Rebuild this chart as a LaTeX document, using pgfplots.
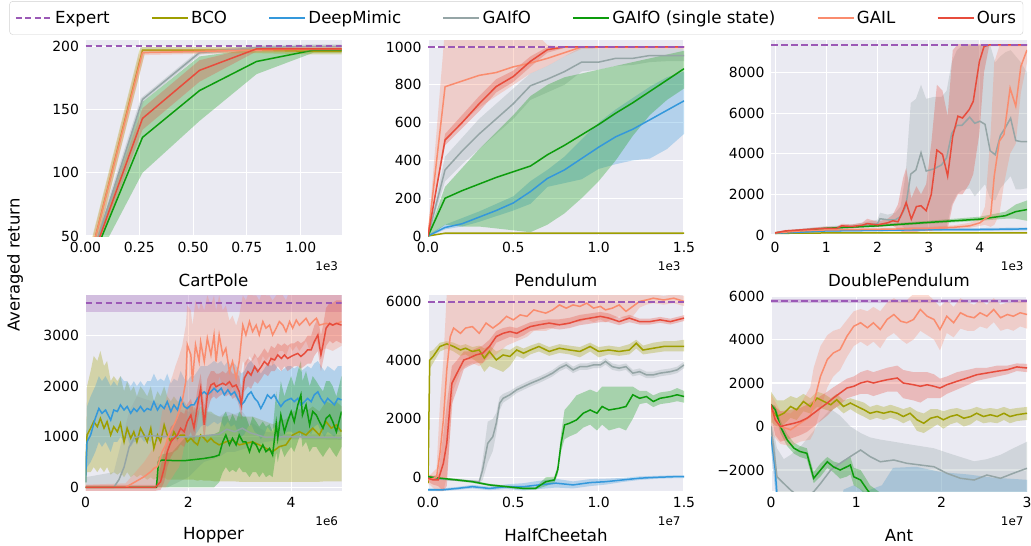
\documentclass[border=0pt]{standalone}
\usepackage{fontspec}
\setmainfont{DejaVu Sans}
\usepackage{pgfplots}
\pgfplotsset{compat=1.18}
\usepackage{pgfplotstable}
\usepgfplotslibrary{fillbetween}

\definecolor{bgc}{HTML}{EAEAF2}
\definecolor{cExp}{HTML}{9B59B6}
\definecolor{cBCO}{HTML}{9E9E00}
\definecolor{cDM}{HTML}{3498DB}
\definecolor{cGO}{HTML}{95A5A6}
\definecolor{cGS}{HTML}{0C9C0C}
\definecolor{cGAIL}{HTML}{FA8C6E}
\definecolor{cOurs}{HTML}{E74C3C}

% ---------- CartPole (x in 1e3) ----------
\pgfplotstableread{
x m
0 18
0.265 197
0.53 197
0.795 197
1.06 196
1.19 196
}\cpBCO
\pgfplotstableread{
x m
0 18
0.265 195
0.53 196
0.795 197
1.06 198
1.19 198
}\cpGAIL
\pgfplotstableread{
x m
0 18
0.265 158
0.53 195
0.795 199
1.06 200
1.19 200
}\cpGO
\pgfplotstableread{
x m lo hi
0 18 15 21
0.265 143 134 151
0.53 181 172 189
0.795 198 196 200
1.06 198 197 199
1.19 198 197 199
}\cpOurs
\pgfplotstableread{
x m lo hi
0 18 14 22
0.265 128 100 156
0.53 165 141 192
0.795 188 178 198
1.06 197 195 199
1.19 197 195 199
}\cpGS

% ---------- Pendulum (x in 1e3) ----------
\pgfplotstableread{
x m
0 0
0.1 15
1.5 15
}\peBCO
\pgfplotstableread{
x m lo hi
0 0 -5 5
0.1 45 35 60
0.2 65 50 95
0.3 100 75 130
0.4 135 105 170
0.5 175 135 210
0.6 235 170 290
0.7 305 260 350
0.8 350 280 420
0.9 410 300 510
1.0 470 355 600
1.1 525 380 670
1.2 565 400 730
1.3 615 410 790
1.4 665 460 840
1.5 715 540 870
}\peDM
\pgfplotstableread{
x m lo hi
0 0 -5 5
0.1 350 290 420
0.2 450 380 520
0.3 540 460 620
0.4 620 540 700
0.5 700 620 780
0.6 795 720 860
0.7 830 760 900
0.8 870 800 950
0.9 920 870 1000
1.0 920 880 990
1.1 940 900 990
1.2 940 905 990
1.3 955 920 990
1.4 955 925 990
1.5 955 925 990
}\peGO
\pgfplotstableread{
x m lo hi
0 0 -5 5
0.1 200 60 260
0.2 240 50 360
0.3 275 50 460
0.4 310 40 550
0.5 340 30 640
0.6 370 20 740
0.7 430 60 800
0.8 480 120 840
0.9 535 200 860
1.0 590 290 880
1.1 650 400 900
1.2 705 530 920
1.3 765 640 940
1.4 825 720 960
1.5 885 780 980
}\peGS
\pgfplotstableread{
x m lo hi
0 0 -5 5
0.1 790 500 1100
0.2 820 600 1100
0.3 850 680 1100
0.4 865 740 1100
0.5 895 800 1100
0.6 915 860 1100
0.7 940 900 1010
0.8 970 950 1000
0.9 1000 990 1005
1.5 1000 990 1005
}\peGAIL
\pgfplotstableread{
x m lo hi
0 0 -5 5
0.1 508 480 540
0.2 600 570 640
0.3 700 660 740
0.4 791 760 830
0.5 844 815 875
0.6 924 895 950
0.7 986 970 1000
0.8 1000 995 1003
1.5 1000 995 1003
}\peOurs

% ---------- DoublePendulum (x in 1e3) ----------
\pgfplotstableread{
x m lo hi
0 80 60 100
1 100 80 120
4.92 100 80 120
}\dpBCO
\pgfplotstableread{
x m lo hi
0 80 50 110
1 200 150 250
2 230 180 280
3 260 200 320
4 270 200 340
4.92 300 230 370
}\dpDM
\pgfplotstableread{
x m lo hi
0 100 50 150
0.5 250 200 300
1.0 330 250 420
1.5 420 330 520
1.8 500 380 650
2.0 550 400 750
2.05 800 500 1100
2.2 750 500 1000
2.35 750 450 1100
2.45 900 500 1400
2.55 1400 300 3000
2.65 3000 200 6500
2.75 3200 250 6700
2.85 4050 300 7400
2.95 3150 200 6700
3.1 3250 200 6800
3.25 3450 200 6800
3.35 3800 400 7100
3.45 5000 1500 8500
3.55 5400 2000 9100
3.65 5400 2200 9300
3.8 5800 2300 9350
3.9 5500 1900 9350
4.0 5600 2200 9350
4.1 5450 2500 9350
4.2 4150 1800 9350
4.3 3950 1700 8500
4.4 4900 2300 8800
4.5 5300 2600 9000
4.6 5750 2900 9100
4.7 4650 2250 8800
4.8 4600 2250 8500
4.92 4600 2300 8000
}\dpGO
\pgfplotstableread{
x m lo hi
0 100 50 150
1 330 280 380
2 450 400 520
3 620 550 700
4 780 700 900
4.5 950 800 1150
4.7 1150 800 1500
4.92 1250 700 1700
}\dpGS
\pgfplotstableread{
x m lo hi
0 100 50 150
0.5 200 150 250
1.0 250 200 300
2.0 280 220 350
3.0 320 250 400
3.5 380 300 480
3.8 450 350 600
4.0 600 450 800
4.1 800 500 1400
4.21 950 400 5000
4.28 2900 500 8500
4.38 4620 1000 9300
4.47 4950 2500 9300
4.59 7230 4000 9350
4.70 6340 4500 9350
4.80 8300 7000 9350
4.92 9110 8500 9350
}\dpGAIL
\pgfplotstableread{
x m lo hi
0 100 50 150
0.2 200 150 250
0.5 250 200 300
0.8 300 220 380
1.0 330 250 420
1.2 320 240 400
1.3 450 350 550
1.5 420 320 520
1.7 480 380 600
1.8 560 400 800
2.0 500 380 650
2.2 600 450 800
2.3 700 450 1000
2.4 650 300 1500
2.5 1200 100 2800
2.56 1600 100 3300
2.66 780 100 1800
2.76 1400 150 2400
2.85 1440 200 2000
2.95 1190 200 2500
3.05 2000 200 4500
3.16 4180 300 7400
3.27 3970 300 7100
3.37 2900 300 5850
3.47 4870 1500 9100
3.57 5850 2000 9400
3.66 5760 2000 9400
3.79 6170 2500 9400
3.87 6580 3000 9400
3.99 8540 5000 9400
4.08 9275 8000 9400
4.18 9357 9300 9400
4.92 9357 9300 9400
}\dpOurs

% ---------- Hopper (x in 1e6) ----------
\pgfplotstableread{
x m lo hi
0 3650 3470 3830
5 3650 3470 3830
}\hoExp
\pgfplotstableread{
x m lo hi
0 100 0 300
0.03 1035 300 2000
0.1 1170 300 2300
0.16 1300 400 2600
0.23 1200 300 2500
0.29 1365 400 2700
0.36 1170 300 2400
0.42 1300 400 2500
0.49 1035 250 2100
0.55 1200 300 2200
0.62 1100 250 2100
0.68 1265 300 2200
0.75 900 200 1900
0.81 1170 300 2100
0.88 970 200 1900
0.94 1100 250 2000
1.0 900 200 1800
1.07 1170 250 2000
1.14 1035 200 1900
1.2 900 150 1800
1.27 1170 200 2000
1.33 770 150 1700
1.4 1035 200 1900
1.46 900 150 1800
1.53 1235 200 2000
1.59 1035 150 1800
1.66 900 150 1700
1.72 1100 150 1800
1.79 970 150 1700
1.85 1035 150 1700
1.92 1035 150 1700
1.98 900 150 1600
2.05 970 150 1600
2.11 900 150 1600
2.18 840 130 1500
2.24 1035 150 1600
2.31 970 130 1550
2.37 900 130 1500
2.44 970 130 1500
2.5 900 120 1450
2.6 840 120 1400
2.73 900 120 1400
2.86 935 120 1450
2.99 840 110 1400
3.12 870 110 1400
3.25 900 110 1400
3.38 840 110 1350
3.51 770 110 1300
3.64 705 110 1250
3.77 805 110 1300
3.9 840 110 1350
4.03 1035 110 1500
4.16 1100 110 1550
4.29 1035 110 1500
4.42 1170 110 1600
4.55 1035 110 1500
4.68 1300 120 1700
4.78 1170 120 1650
4.88 1235 120 1700
4.98 1100 120 1600
}\hoBCO
\pgfplotstableread{
x m lo hi
0 100 0 300
0.03 903 400 1600
0.1 1035 500 1800
0.19 1365 700 2000
0.26 1560 900 2200
0.32 1465 800 2100
0.39 1530 900 2200
0.49 1330 700 2000
0.55 1530 900 2100
0.62 1500 900 2000
0.68 1630 1000 2200
0.75 1530 900 2100
0.81 1600 1000 2100
0.88 1465 800 2000
0.94 1560 900 2100
1.0 1500 900 2000
1.07 1600 1000 2100
1.14 1500 900 2000
1.2 1560 950 2100
1.27 1530 900 2100
1.33 1695 1050 2250
1.4 1530 900 2100
1.46 1630 1000 2150
1.53 1560 950 2100
1.59 1695 1050 2250
1.66 1500 900 2050
1.72 1630 1000 2150
1.79 1530 900 2100
1.85 1760 1100 2300
1.92 1600 1000 2150
1.98 1560 950 2100
2.05 1630 1000 2200
2.11 1630 1000 2200
2.18 1760 1100 2300
2.24 1830 1200 2400
2.31 1890 1250 2400
2.37 1830 1200 2400
2.44 1890 1250 2450
2.5 1960 1300 2500
2.57 1890 1250 2450
2.64 1960 1300 2500
2.7 1830 1200 2400
2.77 1930 1300 2500
2.83 1830 1200 2400
2.9 1890 1250 2450
2.96 1760 1100 2350
3.03 1630 1000 2250
3.09 1695 1050 2300
3.16 1830 1200 2450
3.22 1890 1250 2500
3.29 1760 1100 2400
3.35 1695 1050 2350
3.41 1560 950 2250
3.48 1695 1050 2350
3.54 1830 1200 2450
3.61 1760 1100 2400
3.67 1830 1200 2450
3.74 1695 1050 2350
3.8 1600 1000 2300
3.87 1695 1050 2350
3.93 1730 1100 2400
4.0 1760 1100 2400
4.06 1695 1050 2350
4.13 1760 1100 2400
4.19 1630 1000 2300
4.26 1695 1050 2350
4.32 1760 1100 2400
4.39 1695 1050 2350
4.45 1830 1200 2450
4.52 1890 1250 2500
4.58 1760 1100 2400
4.65 1660 1000 2300
4.71 1760 1100 2400
4.78 1695 1050 2350
4.84 1630 1000 2300
4.91 1760 1100 2400
4.98 1730 1100 2400
}\hoDM
\pgfplotstableread{
x m lo hi
0 0 -10 200
0.55 0 -10 300
0.65 150 -10 700
0.75 400 0 1100
0.85 800 0 1500
0.95 980 0 1700
1.0 1000 0 1800
1.3 1020 0 1700
1.6 1000 0 1600
2.0 1000 200 1500
2.3 1020 500 1500
2.6 1050 600 1400
2.75 1150 700 1500
2.9 1100 700 1450
3.05 1170 750 1500
3.2 1080 800 1300
3.5 990 900 1100
4.0 1000 950 1050
4.5 990 950 1050
4.98 985 940 1030
}\hoGO
\pgfplotstableread{
x m lo hi
0 0 -10 10
1.38 0 -10 10
1.42 510 0 600
1.49 540 0 650
1.69 530 0 700
1.95 530 0 1000
2.3 570 0 1000
2.5 605 0 1050
2.6 640 100 1100
2.67 900 300 1400
2.73 1035 400 1500
2.8 840 300 1300
2.86 970 350 1450
2.93 840 300 1300
2.99 1035 400 1500
3.06 900 300 1400
3.12 900 300 1400
3.19 705 200 1200
3.25 900 300 1400
3.32 840 300 1300
3.38 705 200 1200
3.45 840 300 1300
3.51 705 200 1200
3.58 770 250 1250
3.64 640 200 1100
3.71 1265 700 1900
3.74 970 500 1600
3.8 1430 800 2100
3.87 1100 600 1800
3.93 1300 700 2000
4.0 1500 800 2200
4.06 1300 700 2000
4.13 1630 900 2300
4.19 1830 1100 2500
4.22 1430 800 2100
4.29 1630 900 2300
4.36 1235 700 2000
4.42 1500 800 2200
4.49 1430 800 2100
4.55 1300 700 2000
4.62 1170 600 1900
4.68 1365 700 2100
4.75 1430 800 2100
4.81 1300 700 2000
4.88 1100 600 1800
4.98 1500 800 2200
}\hoGS
\pgfplotstableread{
x m lo hi
0 0 -10 50
0.78 0 -10 80
0.97 110 -10 300
1.14 210 -10 500
1.27 310 -10 700
1.33 375 0 800
1.4 410 0 900
1.49 700 0 1500
1.56 840 0 1700
1.62 1035 100 2000
1.69 1170 200 2200
1.75 1300 300 2400
1.82 1500 400 2600
1.88 1695 600 2800
1.95 2090 1000 3200
1.98 2820 1600 3600
2.05 2620 1500 3500
2.08 2090 1200 3200
2.14 2820 1700 3700
2.21 2490 1500 3500
2.24 2880 1800 3700
2.31 2490 1500 3500
2.37 2950 1900 3800
2.44 2620 1700 3600
2.5 3015 2000 3800
2.54 2490 1800 3500
2.6 3015 2200 3800
2.67 2620 2000 3500
2.73 2750 2100 3600
2.8 2290 1800 3300
2.86 2490 2000 3400
2.93 2160 1700 3200
2.99 2490 2000 3400
3.06 3210 2500 3800
3.12 3015 2400 3700
3.19 3280 2600 3900
3.25 3080 2500 3800
3.32 3210 2600 3800
3.38 3015 2400 3700
3.45 3280 2600 3900
3.51 3150 2500 3800
3.58 3210 2600 3800
3.64 3015 2400 3700
3.71 3150 2600 3800
3.77 3280 2700 3900
3.84 3210 2700 3800
3.9 3080 2600 3700
3.97 3280 2800 3900
4.03 3150 2700 3800
4.1 3310 2800 3900
4.16 3210 2700 3800
4.23 3280 2800 3900
4.29 3345 2900 3900
4.36 3210 2700 3800
4.42 3280 2800 3900
4.49 3345 2900 3950
4.55 3210 2700 3850
4.68 3245 2750 3900
4.81 3210 2700 3850
4.98 3280 2800 3900
}\hoGAIL
\pgfplotstableread{
x m lo hi
0 0 -70 50
1.36 0 -70 50
1.46 110 -50 400
1.53 375 100 700
1.59 700 400 1000
1.66 900 600 1200
1.72 970 700 1250
1.79 1035 750 1350
1.85 1170 850 1500
1.92 1100 800 1450
1.98 1300 950 1650
2.05 1430 1100 1750
2.11 1170 850 1500
2.18 1630 1300 1950
2.24 1960 1650 2250
2.31 1235 900 1600
2.37 1830 1500 2150
2.44 2025 1750 2300
2.5 2060 1800 2300
2.54 1990 1750 2250
2.6 2025 1800 2250
2.67 2060 1850 2300
2.73 2025 1800 2250
2.8 2090 1850 2350
2.86 1990 1750 2250
2.93 2025 1800 2250
2.99 1895 1600 2200
3.03 1630 1350 1950
3.09 2160 1900 2450
3.16 2290 2000 2550
3.22 2220 1950 2500
3.29 2390 2100 2650
3.35 2290 2050 2550
3.42 2390 2150 2650
3.48 2490 2250 2750
3.55 2420 2200 2650
3.61 2550 2300 2800
3.68 2520 2300 2750
3.74 2620 2400 2850
3.81 2550 2300 2800
3.87 2620 2400 2850
3.93 2550 2300 2800
4.0 2590 2350 2850
4.06 2620 2400 2850
4.13 2650 2400 2900
4.19 2590 2350 2850
4.26 2650 2400 2900
4.32 2720 2450 3000
4.39 2720 2450 3000
4.45 2880 2600 3200
4.52 3015 2700 3350
4.58 2620 2300 3000
4.62 2820 2500 3200
4.68 3150 2800 3550
4.75 3245 2900 3650
4.81 3210 2850 3650
4.88 3245 2900 3700
4.98 3210 2850 3700
}\hoOurs

% ---------- HalfCheetah (x in 1e7) ----------
\pgfplotstableread{
x m lo hi
0 -200 -300 -100
0.01 4000 3700 4300
0.03 4130 3900 4350
0.07 4470 4300 4600
0.11 4560 4400 4650
0.15 4470 4300 4600
0.19 4350 4150 4500
0.22 4410 4200 4550
0.26 4300 4050 4450
0.3 4350 3900 4500
0.33 4070 3600 4400
0.36 4300 3800 4500
0.4 4010 3700 4300
0.44 4180 3600 4400
0.48 4130 3800 4350
0.52 4350 4150 4500
0.56 4240 4050 4400
0.6 4350 4200 4500
0.65 4470 4300 4600
0.71 4300 4150 4450
0.77 4410 4250 4550
0.83 4350 4200 4500
0.89 4300 4100 4450
0.95 4470 4300 4600
1.0 4300 4100 4450
1.06 4350 4200 4500
1.12 4300 4150 4450
1.18 4350 4200 4550
1.22 4580 4400 4700
1.26 4350 4200 4500
1.32 4410 4250 4600
1.38 4470 4300 4650
1.44 4470 4300 4650
1.5 4470 4300 4700
}\hcBCO
\pgfplotstableread{
x m lo hi
0 -430 -470 -380
0.08 -430 -470 -380
0.17 -380 -430 -330
0.26 -320 -380 -260
0.36 -380 -440 -320
0.46 -320 -400 -240
0.56 -320 -450 -200
0.65 -260 -400 -120
0.75 -200 -350 -50
0.85 -260 -380 -140
0.95 -180 -300 -60
1.04 -150 -250 -50
1.14 -90 -160 -20
1.24 -30 -90 30
1.34 0 -50 50
1.44 20 -30 70
1.5 20 -30 70
}\hcDM
\pgfplotstableread{
x m lo hi
0 -30 -60 0
0.15 -90 -120 -60
0.3 -150 -180 -120
0.32 250 -100 600
0.35 1160 500 1900
0.38 1390 900 2000
0.4 1850 1500 2200
0.42 2530 2300 2750
0.44 2700 2550 2850
0.48 2820 2700 2950
0.52 2990 2880 3100
0.56 3100 2990 3210
0.6 3210 3100 3320
0.65 3330 3220 3440
0.69 3440 3330 3550
0.73 3560 3450 3670
0.77 3730 3620 3840
0.81 3840 3730 3950
0.85 3670 3560 3780
0.89 3780 3670 3890
0.93 3780 3670 3890
0.97 3840 3730 3950
1.01 3840 3730 3950
1.04 3960 3850 4070
1.08 3780 3670 3890
1.12 3730 3620 3840
1.16 3780 3670 3890
1.2 3560 3450 3670
1.24 3610 3500 3720
1.28 3500 3390 3610
1.32 3500 3390 3610
1.36 3560 3450 3670
1.42 3610 3500 3720
1.46 3670 3560 3780
1.5 3840 3730 3950
}\hcGO
\pgfplotstableread{
x m lo hi
0 20 -20 60
0.07 -30 -70 10
0.17 -90 -130 -50
0.26 -150 -190 -110
0.36 -260 -300 -220
0.46 -320 -360 -280
0.56 -380 -420 -340
0.63 -380 -420 -340
0.69 -150 -300 0
0.74 -90 -200 20
0.76 250 100 400
0.78 1160 900 1500
0.80 1790 1300 2300
0.83 1850 1400 2500
0.87 1960 1500 2800
0.91 2190 1700 2900
0.95 2300 1800 3000
0.99 2190 1600 2900
1.02 2420 1800 3100
1.06 2300 1600 3100
1.12 2360 1700 3100
1.16 2420 1600 3100
1.2 2820 2000 3100
1.24 2700 2500 2950
1.28 2760 2550 2950
1.32 2590 2400 2800
1.36 2700 2500 2900
1.42 2760 2550 2950
1.46 2820 2600 3050
1.5 2760 2550 2950
}\hcGS
\pgfplotstableread{
x m lo hi
0 -90 -200 0
0.05 0 -470 300
0.07 820 -470 2500
0.09 1960 -470 4000
0.11 3670 0 6300
0.13 4800 1500 6300
0.15 5100 3000 6300
0.19 4920 3600 6300
0.22 5100 3800 6300
0.26 5150 3900 6300
0.3 4920 3800 6300
0.34 5270 4000 6300
0.38 5100 4100 6300
0.42 5270 4300 6300
0.46 5500 4500 6300
0.5 5380 4600 6300
0.54 5550 4700 6300
0.58 5500 4800 6300
0.62 5720 5000 6300
0.65 5670 5000 6300
0.69 5610 5000 6300
0.73 5720 5100 6300
0.77 5890 5200 6300
0.81 5780 5200 6300
0.85 5890 5300 6300
0.89 5840 5300 6300
0.93 5950 5400 6300
0.97 5780 5300 6300
1.01 5840 5400 6300
1.04 5720 5300 6300
1.08 5780 5400 6300
1.12 5890 5500 6300
1.16 5670 5400 6300
1.2 5840 5500 6300
1.24 6010 5800 6300
1.28 6060 5900 6250
1.32 6120 5950 6250
1.38 6060 5900 6200
1.44 6120 5950 6250
1.5 6010 5850 6200
}\hcGAIL
\pgfplotstableread{
x m lo hi
0 -30 -150 100
0.03 -90 -250 50
0.06 -90 -300 100
0.09 480 -470 1500
0.11 1160 -300 2500
0.14 3210 2500 3800
0.17 3560 3000 4000
0.21 4010 3700 4300
0.24 4070 3800 4300
0.28 4180 3900 4400
0.32 4240 3900 4500
0.36 4470 4200 4700
0.4 4810 4600 5000
0.44 4920 4700 5100
0.48 4980 4800 5150
0.52 4920 4750 5100
0.56 5040 4850 5200
0.6 5150 5000 5300
0.65 5210 5050 5350
0.71 5270 5100 5400
0.77 5210 5050 5400
0.83 5270 5100 5450
0.89 5380 5200 5550
0.95 5440 5250 5600
1.01 5500 5300 5650
1.06 5440 5300 5600
1.12 5320 5200 5450
1.18 5440 5300 5550
1.24 5320 5220 5420
1.3 5320 5220 5420
1.36 5380 5280 5480
1.42 5320 5220 5420
1.5 5440 5340 5540
}\hcOurs

% ---------- Ant (x in 1e7) ----------
\pgfplotstableread{
x m lo hi
0 5780 5700 5860
3 5780 5700 5860
}\anExp
\pgfplotstableread{
x m lo hi
0 770 200 1600
0.07 460 0 1200
0.15 610 100 1200
0.23 920 400 1400
0.3 770 300 1300
0.38 1150 700 1500
0.46 920 600 1300
0.54 1310 900 1600
0.62 1150 800 1500
0.7 1000 700 1300
0.77 1230 900 1500
0.85 920 600 1200
0.93 1080 800 1300
1.01 920 600 1200
1.09 770 450 1100
1.16 610 300 900
1.24 690 400 1000
1.32 610 300 900
1.4 690 400 1000
1.48 610 300 900
1.55 460 150 800
1.63 610 300 900
1.71 310 -200 700
1.79 150 -300 600
1.87 380 -100 800
1.95 460 100 800
2.02 310 -100 700
2.1 460 100 800
2.18 540 200 850
2.26 380 0 750
2.34 460 100 800
2.41 610 300 900
2.49 460 150 800
2.57 540 200 850
2.65 460 150 800
2.73 610 300 900
2.8 460 150 800
2.88 540 250 850
3.0 610 300 900
}\anBCO
\pgfplotstableread{
x m
0 -460
0.05 -2000
0.07 -3230
0.1 -4200
3.0 -4200
}\anDMline
\pgfplotstableread{
x lo hi
0 -1000 100
0.05 -3000 -1000
0.07 -3500 -2400
0.1 -4300 -4100
0.8 -4300 -4100
0.85 -4300 -2900
0.97 -4300 -2700
1.1 -4300 -3000
1.3 -4300 -2700
1.43 -4300 -1900
1.7 -4300 -1850
2.0 -4300 -2100
2.3 -4300 -2200
2.6 -4300 -2350
3.0 -4300 -2450
}\anDM
\pgfplotstableread{
x m lo hi
0 0 -400 400
0.07 -2310 -3200 -1000
0.15 -2620 -4000 -1500
0.23 -2920 -4000 -1300
0.35 -3300 -4000 -900
0.5 -3000 -4000 -200
0.58 -2620 -4000 300
0.7 -2000 -4000 800
0.81 -1690 -4000 500
0.93 -1380 -4000 0
1.05 -1080 -3500 -300
1.16 -1380 -3800 -500
1.28 -1620 -4000 -600
1.44 -1540 -4000 -700
1.59 -1690 -4000 -800
1.75 -1770 -4000 -900
1.91 -1850 -4000 -1000
2.06 -2150 -4000 -1200
2.22 -2380 -4000 -1400
2.38 -2460 -4000 -1600
2.53 -2230 -4000 -1500
2.69 -2380 -4000 -1300
2.84 -2150 -4000 -1000
3.0 -1920 -4000 -700
}\anGO
\pgfplotstableread{
x m lo hi
0 1000 800 1050
0.05 770 500 950
0.11 0 -300 300
0.19 -620 -900 -350
0.27 -1000 -1250 -750
0.34 -1150 -1400 -900
0.42 -1230 -1500 -1000
0.5 -2380 -2600 -2100
0.58 -2000 -2300 -1700
0.66 -1620 -1900 -1400
0.73 -1850 -2100 -1600
0.81 -2000 -2400 -1700
0.89 -1850 -2300 -1500
0.93 -1770 -2200 -1400
0.97 -2310 -2700 -1900
1.05 -2460 -2900 -2000
1.13 -2920 -3300 -2500
1.16 -3080 -3500 -2700
1.3 -3500 -3900 -3100
1.5 -3800 -4200 -3400
}\anGS
\pgfplotstableread{
x m lo hi
0 770 -300 1500
0.11 0 -800 700
0.23 -150 -900 600
0.34 150 -700 1000
0.46 460 -600 1800
0.5 1080 -300 2700
0.58 2310 800 3700
0.66 3080 1800 4200
0.73 3380 2300 4400
0.81 3540 2600 4500
0.89 4150 3200 4900
0.97 4610 3700 5300
1.05 4770 3900 5400
1.13 4540 3700 5300
1.2 4770 3900 5500
1.28 4460 3600 5300
1.36 4920 4100 5700
1.44 5150 4300 5900
1.52 4840 4000 5700
1.59 4770 3800 5800
1.67 4920 4000 6100
1.75 5380 4400 6300
1.83 5070 4200 6100
1.91 4920 4000 5800
1.98 4460 3500 5500
2.06 5070 4300 5800
2.14 4770 4100 5500
2.22 5230 4500 5900
2.3 5070 4400 5700
2.38 5000 4400 5600
2.45 5230 4600 5800
2.53 5070 4500 5600
2.61 5380 4800 5900
2.69 5000 4400 5600
2.77 5150 4500 5700
2.84 5070 4400 5700
2.92 5230 4600 5800
3.0 5150 4500 5700
}\anGAIL
\pgfplotstableread{
x m lo hi
0 1000 500 1050
0.05 300 -400 900
0.11 0 -700 700
0.19 80 -600 750
0.27 150 -500 800
0.34 230 -400 850
0.42 380 -250 1000
0.5 610 0 1200
0.58 850 250 1400
0.66 1080 500 1600
0.73 1310 800 1800
0.81 1540 1000 2000
0.89 1770 1300 2200
0.97 1850 1400 2300
1.05 2000 1500 2500
1.13 2080 1500 2600
1.2 2000 1400 2500
1.28 2080 1500 2600
1.36 2150 1600 2700
1.48 2230 1600 2800
1.55 2000 1300 2600
1.67 1920 1200 2500
1.75 1850 1100 2500
1.83 1920 1300 2500
1.91 1850 1300 2400
1.98 1770 1300 2200
2.06 1920 1500 2300
2.18 2080 1700 2500
2.3 2230 1900 2600
2.41 2380 2100 2700
2.53 2460 2200 2700
2.65 2540 2300 2800
2.77 2610 2400 2800
2.88 2740 2550 2900
3.0 2690 2500 2880
}\anOurs

% band with mean line
\newcommand{\band}[3]{%
  \addplot[draw=none, forget plot, name path=u#3] table[x=x,y=hi]{#1};
  \addplot[draw=none, forget plot, name path=l#3] table[x=x,y=lo]{#1};
  \addplot[fill=#2, fill opacity=0.3, draw=none, forget plot] fill between[of=u#3 and l#3];
}
\newcommand{\mline}[2]{\addplot[#2, line width=1.5bp, forget plot] table[x=x,y=m]{#1};}
\newcommand{\tline}[3]{%
  \addplot[#2, line width=#3, opacity=0.3, line join=round, forget plot] table[x=x,y=m]{#1};
  \addplot[#2, line width=1.5bp, forget plot] table[x=x,y=m]{#1};}
\newcommand{\expert}[3]{\addplot[cExp, line width=1.9bp, dash pattern=on 6.5bp off 3.5bp, forget plot] coordinates {(#1,#3) (#2,#3)};}

\pgfplotsset{
  sb/.style={
    set layers,
    scale only axis, width=256bp, height=196bp, anchor=south west,
    axis background/.style={fill=bgc},
    axis line style={draw=none},
    major tick length=0pt,
    grid=major, grid style={white, line width=1.1bp},
    tick label style={font=\fontsize{14}{16}\selectfont},
    xticklabel style={yshift=-3bp},
    yticklabel style={xshift=-3bp},
    xlabel style={font=\fontsize{16.7}{19}\selectfont, at={(axis description cs:0.5,0)}, anchor=center, yshift=-44bp},
  }
}
\tikzset{offs/.style={anchor=east, font=\fontsize{12}{14}\selectfont}}

\begin{document}
\begin{tikzpicture}

% CartPole
\begin{axis}[sb, name=a1, at={(85.5bp,-236bp)},
  xmin=0, xmax=1.19, ymin=50, ymax=205,
  xtick={0,0.25,0.5,0.75,1}, xticklabels={0.00,0.25,0.50,0.75,1.00},
  ytick={50,100,150,200}, yticklabels={50,100,150,200},
  xlabel={CartPole}]
\tline{\cpBCO}{cBCO}{6bp}
\tline{\cpGO}{cGO}{4bp}
\band{\cpGS}{cGS}{cpgs}\mline{\cpGS}{cGS}
\tline{\cpGAIL}{cGAIL}{5bp}
\band{\cpOurs}{cOurs}{cpou}\mline{\cpOurs}{cOurs}
\expert{0}{1.19}{200}
\end{axis}
\node[offs] at ([yshift=-30bp]a1.south east) {1e3};

% Pendulum
\begin{axis}[sb, name=a2, at={(428bp,-236bp)},
  xmin=0, xmax=1.5, ymin=0, ymax=1037,
  xtick={0,0.5,1,1.5}, xticklabels={0.0,0.5,1.0,1.5},
  ytick={0,200,400,600,800,1000}, yticklabels={0,200,400,600,800,1000},
  xlabel={Pendulum},
  legend columns=7,
  legend style={at={(axis description cs:0.345,1.198)}, anchor=north,
    draw=black!18, rounded corners=3bp, fill=white,
    font=\fontsize{16.7}{19}\selectfont, inner xsep=5bp, inner ysep=7.5bp,
    /tikz/every even column/.append style={column sep=39bp}},
  legend image code/.code={\draw[#1] (0bp,0bp) -- (36bp,0bp);}]
\mline{\peBCO}{cBCO}
\band{\peDM}{cDM}{pedm}\mline{\peDM}{cDM}
\band{\peGO}{cGO}{pego}\mline{\peGO}{cGO}
\band{\peGS}{cGS}{pegs}\mline{\peGS}{cGS}
\band{\peGAIL}{cGAIL}{pega}\mline{\peGAIL}{cGAIL}
\band{\peOurs}{cOurs}{peou}\mline{\peOurs}{cOurs}
\expert{0}{1.5}{1000}
\addlegendimage{cExp, line width=2.5bp, dash pattern=on 6bp off 3.5bp}\addlegendentry{Expert}
\addlegendimage{cBCO, line width=2.5bp}\addlegendentry{BCO}
\addlegendimage{cDM, line width=2.5bp}\addlegendentry{DeepMimic}
\addlegendimage{cGO, line width=2.5bp}\addlegendentry{GAIfO}
\addlegendimage{cGS, line width=2.5bp}\addlegendentry{GAIfO (single state)}
\addlegendimage{cGAIL, line width=2.5bp}\addlegendentry{GAIL}
\addlegendimage{cOurs, line width=2.5bp}\addlegendentry{Ours}
\end{axis}
\node[offs] at ([yshift=-30bp]a2.south east) {1e3};

% DoublePendulum
\begin{axis}[sb, name=a3, at={(771bp,-236bp)},
  xmin=-0.08, xmax=4.92, ymin=-50, ymax=9600,
  xtick={0,1,2,3,4}, xticklabels={0,1,2,3,4},
  ytick={0,2000,4000,6000,8000}, yticklabels={0,2000,4000,6000,8000},
  xlabel={DoublePendulum}]
\band{\dpBCO}{cBCO}{dpbc}\mline{\dpBCO}{cBCO}
\band{\dpDM}{cDM}{dpdm}\mline{\dpDM}{cDM}
\band{\dpGO}{cGO}{dpgo}\mline{\dpGO}{cGO}
\band{\dpGS}{cGS}{dpgs}\mline{\dpGS}{cGS}
\band{\dpGAIL}{cGAIL}{dpga}\mline{\dpGAIL}{cGAIL}
\band{\dpOurs}{cOurs}{dpou}\mline{\dpOurs}{cOurs}
\expert{-0.08}{4.92}{9357}
\end{axis}
\node[offs] at ([yshift=-30bp]a3.south east) {1e3};

% Hopper
\begin{axis}[sb, name=a4, at={(85.5bp,-491bp)},
  xmin=0, xmax=4.98, ymin=-73, ymax=3806,
  xtick={0,2,4}, xticklabels={0,2,4},
  ytick={0,1000,2000,3000}, yticklabels={0,1000,2000,3000},
  xlabel={Hopper}]
\band{\hoExp}{cExp}{hoex}
\band{\hoBCO}{cBCO}{hobc}
\band{\hoDM}{cDM}{hodm}
\band{\hoGO}{cGO}{hogo}
\band{\hoGS}{cGS}{hogs}
\band{\hoGAIL}{cGAIL}{hoga}
\band{\hoOurs}{cOurs}{hoou}
\mline{\hoBCO}{cBCO}
\mline{\hoDM}{cDM}
\mline{\hoGO}{cGO}
\mline{\hoGS}{cGS}
\mline{\hoGAIL}{cGAIL}
\mline{\hoOurs}{cOurs}
\expert{0}{5}{3650}
\end{axis}
\node[offs] at ([yshift=-30bp]a4.south east) {1e6};

% HalfCheetah
\begin{axis}[sb, name=a5, at={(428bp,-491bp)},
  xmin=0, xmax=1.5, ymin=-468, ymax=6229,
  xtick={0,0.5,1,1.5}, xticklabels={0.0,0.5,1.0,1.5},
  ytick={0,2000,4000,6000}, yticklabels={0,2000,4000,6000},
  xlabel={HalfCheetah}]
\band{\hcBCO}{cBCO}{hcbc}\mline{\hcBCO}{cBCO}
\band{\hcDM}{cDM}{hcdm}\mline{\hcDM}{cDM}
\band{\hcGO}{cGO}{hcgo}\mline{\hcGO}{cGO}
\band{\hcGS}{cGS}{hcgs}\mline{\hcGS}{cGS}
\band{\hcGAIL}{cGAIL}{hcga}\mline{\hcGAIL}{cGAIL}
\band{\hcOurs}{cOurs}{hcou}\mline{\hcOurs}{cOurs}
\expert{0}{1.5}{6000}
\end{axis}
\node[offs] at ([yshift=-30bp]a5.south east) {1e7};

% Ant
\begin{axis}[sb, name=a6, at={(771bp,-491bp)},
  xmin=0, xmax=3, ymin=-2965, ymax=6046,
  xtick={0,1,2,3}, xticklabels={0,1,2,3},
  ytick={-2000,0,2000,4000,6000}, yticklabels={−2000,0,2000,4000,6000},
  xlabel={Ant}]
\band{\anExp}{cExp}{anex}
\band{\anBCO}{cBCO}{anbc}\mline{\anBCO}{cBCO}
\band{\anDM}{cDM}{andm}\mline{\anDMline}{cDM}
\band{\anGO}{cGO}{ango}\mline{\anGO}{cGO}
\band{\anGS}{cGS}{angs}\mline{\anGS}{cGS}
\band{\anGAIL}{cGAIL}{anga}\mline{\anGAIL}{cGAIL}
\band{\anOurs}{cOurs}{anou}\mline{\anOurs}{cOurs}
\expert{0}{3}{5780}
\end{axis}
\node[offs] at ([yshift=-30bp]a6.south east) {1e7};

\node[rotate=90, font=\fontsize{16.5}{19}\selectfont] at (15bp,-265bp) {Averaged return};
\pgfresetboundingbox
\useasboundingbox (0,0) rectangle (1031bp,-546bp);
\end{tikzpicture}
\end{document}
